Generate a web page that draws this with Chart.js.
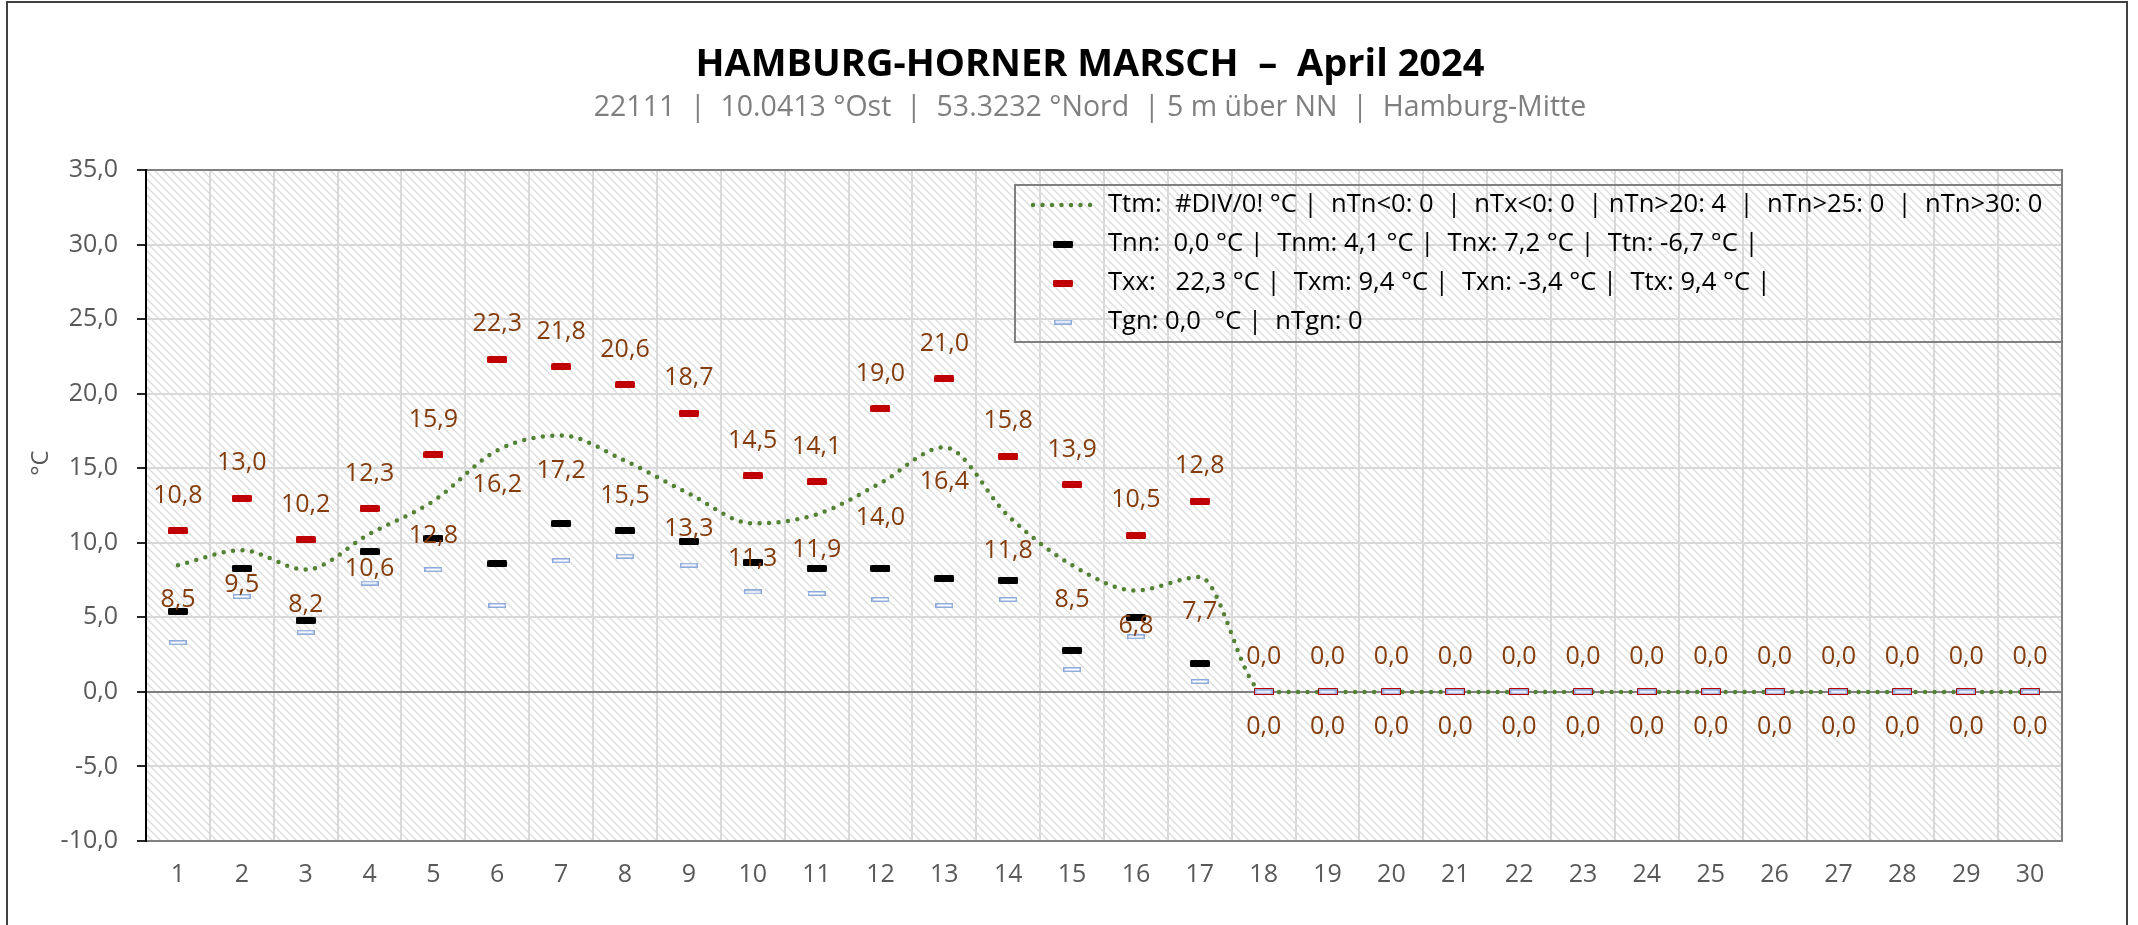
<!DOCTYPE html>
<html lang="de">
<head>
<meta charset="utf-8">
<title>Hamburg-Horner Marsch – April 2024</title>
<script src="https://cdn.jsdelivr.net/npm/chart.js@4.4.1/dist/chart.umd.min.js"></script>
<style>
  html, body { margin: 0; padding: 0; background: #fff; overflow: hidden; }
  #wrap { position: relative; width: 2138px; height: 925px; }
  #frame { position: absolute; left: 6px; top: 1px; width: 2118px; height: 1000px; border: 2px solid #404040; pointer-events: none; }
</style>
</head>
<body>
<div id="wrap">
  <canvas id="chart"></canvas>
  <div id="frame"></div>
</div>
<script>
// Tage im April
const days = [1, 2, 3, 4, 5, 6, 7, 8, 9, 10, 11, 12, 13, 14, 15, 16, 17, 18, 19, 20, 21, 22, 23, 24, 25, 26, 27, 28, 29, 30];

// Tagesmittel (Ttm)
const tMean = [8.5, 9.5, 8.2, 10.6, 12.8, 16.2, 17.2, 15.5, 13.3, 11.3, 11.9, 14.0, 16.4, 11.8, 8.5, 6.8, 7.7,
               0, 0, 0, 0, 0, 0, 0, 0, 0, 0, 0, 0, 0];
// Tagesminimum (Tn)
const tMin = [5.4, 8.3, 4.8, 9.4, 10.3, 8.6, 11.3, 10.8, 10.1, 8.7, 8.3, 8.3, 7.6, 7.5, 2.8, 5.0, 1.9,
              0, 0, 0, 0, 0, 0, 0, 0, 0, 0, 0, 0, 0];
// Tagesmaximum (Tx)
const tMax = [10.8, 13.0, 10.2, 12.3, 15.9, 22.3, 21.8, 20.6, 18.7, 14.5, 14.1, 19.0, 21.0, 15.8, 13.9, 10.5, 12.8,
              0, 0, 0, 0, 0, 0, 0, 0, 0, 0, 0, 0, 0];
// Erdbodenminimum (Tgn)
const tGround = [3.3, 6.4, 4.0, 7.3, 8.2, 5.8, 8.8, 9.1, 8.5, 6.7, 6.6, 6.2, 5.8, 6.2, 1.5, 3.7, 0.7,
                 0, 0, 0, 0, 0, 0, 0, 0, 0, 0, 0, 0, 0];

const yTicks = [-10, -5, 0, 5, 10, 15, 20, 25, 30, 35];

const titleText = 'HAMBURG-HORNER MARSCH  –  April 2024';
const subtitleText = '22111  |  10.0413 °Ost  |  53.3232 °Nord  | 5 m über NN  |  Hamburg-Mitte';
const yTitle = '°C';

const legendTexts = [
  'Ttm:  #DIV/0! °C |  nTn<0: 0  |  nTx<0: 0  | nTn>20: 4  |  nTn>25: 0  |  nTn>30: 0',
  'Tnn:  0,0 °C |  Tnm: 4,1 °C |  Tnx: 7,2 °C |  Ttn: -6,7 °C |',
  'Txx:   22,3 °C |  Txm: 9,4 °C |  Txn: -3,4 °C |  Ttx: 9,4 °C |',
  'Tgn: 0,0  °C |  nTgn: 0'
];

const FONT = "'Open Sans', 'DejaVu Sans', sans-serif";
const LABEL_COLOR = '#843C0C';
const AXIS_COLOR = '#595959';
const GREEN = '#548235';

const fmt = v => v.toFixed(1).replace('.', ',');

function makeMarker(w, h, fill, stroke) {
  const c = document.createElement('canvas');
  c.width = w; c.height = h;
  const g = c.getContext('2d');
  g.fillStyle = fill;
  g.beginPath();
  g.roundRect(0, 0, w, h, 1.5);
  g.fill();
  if (stroke) {
    g.strokeStyle = stroke;
    g.lineWidth = 1.5;
    g.strokeRect(0.75, 0.75, w - 1.5, h - 1.5);
  }
  return c;
}

function makeHatch() {
  const c = document.createElement('canvas');
  c.width = 8; c.height = 8;
  const g = c.getContext('2d');
  g.fillStyle = '#fff';
  g.fillRect(0, 0, 8, 8);
  g.strokeStyle = '#dcdcdc';
  g.lineWidth = 1.3;
  g.beginPath();
  g.moveTo(-2, -2); g.lineTo(10, 10);
  g.moveTo(-2, 6); g.lineTo(2, 10);
  g.moveTo(6, -2); g.lineTo(10, 2);
  g.stroke();
  return c;
}

const redMark = makeMarker(20, 7, '#C00000');
const blackMark = makeMarker(20, 7, '#000000');
const blueMark = makeMarker(18, 5, '#ffffff', '#8EAADB');

const backgroundPlugin = {
  id: 'hatchBackground',
  beforeDraw(chart) {
    const { ctx, chartArea: a } = chart;
    ctx.save();
    ctx.fillStyle = '#fff';
    ctx.fillRect(0, 0, chart.width, chart.height);
    ctx.fillStyle = ctx.createPattern(makeHatch(), 'repeat');
    ctx.fillRect(a.left, a.top, a.right - a.left, a.bottom - a.top);
    ctx.restore();
  }
};

const titlePlugin = {
  id: 'titles',
  afterDraw(chart) {
    const ctx = chart.ctx;
    ctx.save();
    ctx.textAlign = 'center';
    ctx.textBaseline = 'middle';
    ctx.fillStyle = '#000';
    ctx.font = `bold 38px ${FONT}`;
    ctx.fillText(titleText, 1090, 65);
    ctx.fillStyle = '#7f7f7f';
    ctx.font = `28.5px ${FONT}`;
    ctx.fillText(subtitleText, 1090, 108);
    ctx.restore();
  }
};

const framePlugin = {
  id: 'plotFrame',
  beforeDatasetsDraw(chart) {
    const { ctx, chartArea: a } = chart;
    ctx.save();
    ctx.lineWidth = 2;
    ctx.strokeStyle = '#808080';
    ctx.strokeRect(a.left, a.top, a.right - a.left, a.bottom - a.top);
    ctx.strokeStyle = '#000';
    ctx.beginPath();
    ctx.moveTo(a.left, a.top - 1);
    ctx.lineTo(a.left, a.bottom + 1);
    ctx.stroke();
    // Achsentitel
    ctx.fillStyle = AXIS_COLOR;
    ctx.font = `24px ${FONT}`;
    ctx.textAlign = 'center';
    ctx.textBaseline = 'middle';
    ctx.translate(41, a.top + 293);
    ctx.rotate(-Math.PI / 2);
    ctx.fillText(yTitle, 0, 0);
    ctx.restore();
  }
};

const labelPlugin = {
  id: 'valueLabels',
  afterDatasetsDraw(chart) {
    const ctx = chart.ctx;
    ctx.save();
    ctx.font = `25px ${FONT}`;
    ctx.fillStyle = LABEL_COLOR;
    ctx.textAlign = 'center';
    ctx.textBaseline = 'middle';
    chart.getDatasetMeta(1).data.forEach((pt, i) => ctx.fillText(fmt(tMax[i]), pt.x, pt.y - 35));
    chart.getDatasetMeta(3).data.forEach((pt, i) => ctx.fillText(fmt(tMean[i]), pt.x, pt.y + 35));
    ctx.restore();
  }
};

const legendPlugin = {
  id: 'boxLegend',
  afterDatasetsDraw(chart) {
    const { ctx, chartArea: a } = chart;
    const left = a.right - 1047, top = a.top + 15, bottom = a.top + 172;
    ctx.save();
    ctx.lineWidth = 2;
    ctx.strokeStyle = '#808080';
    ctx.strokeRect(left, top, a.right - left, bottom - top);

    const symX = left + 48;
    const rows = legendTexts.map((t, i) => top + 20 + i * 39);

    ctx.strokeStyle = GREEN;
    ctx.lineWidth = 4.5;
    ctx.lineCap = 'round';
    ctx.setLineDash([0, 9.5]);
    ctx.beginPath();
    ctx.moveTo(left + 18, rows[0]);
    ctx.lineTo(left + 80, rows[0]);
    ctx.stroke();
    ctx.setLineDash([]);

    [blackMark, redMark, blueMark].forEach((m, i) => {
      ctx.drawImage(m, symX - m.width / 2, rows[i + 1] - m.height / 2);
    });

    ctx.fillStyle = '#000';
    ctx.font = `25.6px ${FONT}`;
    ctx.textAlign = 'left';
    ctx.textBaseline = 'middle';
    legendTexts.forEach((t, i) => ctx.fillText(t, left + 93, rows[i]));
    ctx.restore();
  }
};

new Chart(document.getElementById('chart'), {
  type: 'line',
  data: {
    labels: days,
    datasets: [
      {
        label: 'Tgn',
        data: tGround,
        showLine: false,
        pointStyle: blueMark,
        pointRadius: 10
      },
      {
        label: 'Txx',
        data: tMax,
        showLine: false,
        pointStyle: redMark,
        pointRadius: 10
      },
      {
        label: 'Tnn',
        data: tMin,
        showLine: false,
        pointStyle: blackMark,
        pointRadius: 10
      },
      {
        label: 'Ttm',
        data: tMean,
        borderColor: GREEN,
        borderWidth: 4.5,
        borderDash: [0, 9.5],
        borderCapStyle: 'round',
        cubicInterpolationMode: 'monotone',
        pointRadius: 0,
        fill: false
      }
    ]
  },
  options: {
    responsive: true,
    maintainAspectRatio: false,
    animation: false,
    layout: { padding: { left: 0, right: 76, top: 170, bottom: 0 } },
    plugins: {
      legend: { display: false },
      tooltip: { enabled: false },
      title: { display: false }
    },
    scales: {
      x: {
        offset: true,
        grid: { offset: true, color: '#d9d9d9', lineWidth: 2, drawTicks: false },
        border: { display: false },
        ticks: {
          color: AXIS_COLOR,
          font: { family: FONT, size: 25 },
          padding: 19,
          maxRotation: 0,
          autoSkip: false
        },
        afterFit(scale) { scale.height = 84; }
      },
      y: {
        min: -10,
        max: 35,
        afterBuildTicks(scale) { scale.ticks = yTicks.map(v => ({ value: v })); },
        grid: {
          color: c => (c.tick && c.tick.value === 0) ? '#808080' : '#d9d9d9',
          lineWidth: 2,
          tickLength: 9,
          tickColor: '#262626'
        },
        border: { display: false },
        ticks: {
          color: AXIS_COLOR,
          font: { family: FONT, size: 25 },
          padding: 19,
          callback: v => fmt(v)
        },
        afterFit(scale) { scale.width = 146; }
      }
    }
  },
  plugins: [backgroundPlugin, titlePlugin, framePlugin, labelPlugin, legendPlugin]
});
</script>
</body>
</html>
